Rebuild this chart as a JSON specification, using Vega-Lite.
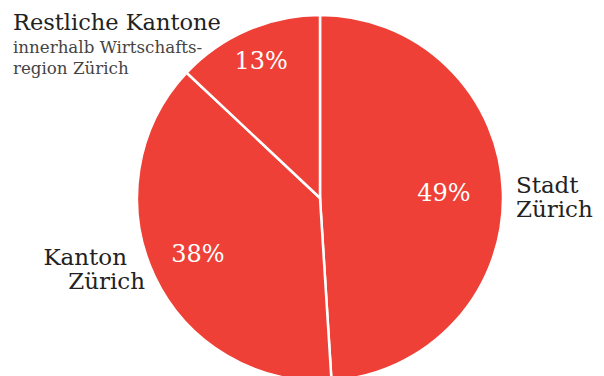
{
  "$schema": "https://vega.github.io/schema/vega-lite/v6.json",
  "width": 568,
  "height": 356,
  "padding": {"left": 36, "top": 20, "right": 0, "bottom": 0},
  "autosize": {"type": "none"},
  "background": "white",
  "config": {"view": {"stroke": null}, "font": "DejaVu Serif"},
  "data": {
    "values": [
      {"category": "Stadt Zürich", "value": 49, "ord": 1, "pct": "49%", "name": ["Stadt", "Zürich"], "name2": ""},
      {"category": "Kanton Zürich", "value": 38, "ord": 2, "pct": "38%", "name": "Kanton", "name2": "Zürich"},
      {"category": "Restliche Kantone", "value": 13, "ord": 3, "pct": "13%", "name": "Restliche Kantone", "name2": ["innerhalb Wirtschafts-", "region Zürich"]}
    ]
  },
  "encoding": {
    "theta": {"field": "value", "type": "quantitative", "stack": true},
    "order": {"field": "ord", "type": "quantitative"}
  },
  "layer": [
    {
      "mark": {"type": "arc", "outerRadius": 183, "fill": "#EE4036", "stroke": "white", "strokeWidth": 2.5}
    },
    {
      "mark": {"type": "text", "radius": 124, "fontSize": 24, "fill": "white", "align": "center", "baseline": "middle", "font": "DejaVu Serif"},
      "encoding": {"text": {"condition": {"test": "datum.ord === 1", "field": "pct"}, "value": ""}}
    },
    {
      "mark": {"type": "text", "radius": 135, "fontSize": 24, "fill": "white", "align": "center", "baseline": "middle", "font": "DejaVu Serif"},
      "encoding": {"text": {"condition": {"test": "datum.ord === 2", "field": "pct"}, "value": ""}}
    },
    {
      "mark": {"type": "text", "radius": 148, "fontSize": 24, "fill": "white", "align": "center", "baseline": "middle", "font": "DejaVu Serif"},
      "encoding": {"text": {"condition": {"test": "datum.ord === 3", "field": "pct"}, "value": ""}}
    },
    {
      "mark": {"type": "text", "radius": 196, "dy": 1, "fontSize": 23, "lineHeight": 24, "fill": "#222222", "align": "left", "baseline": "alphabetic", "font": "DejaVu Serif"},
      "encoding": {"text": {"condition": {"test": "datum.ord === 1", "field": "name"}, "value": ""}}
    },
    {
      "mark": {"type": "text", "radius": 200, "dx": -12, "dy": -18, "fontSize": 23, "fill": "#222222", "align": "right", "baseline": "alphabetic", "font": "DejaVu Serif"},
      "encoding": {"text": {"condition": {"test": "datum.ord === 2", "field": "name"}, "value": ""}}
    },
    {
      "mark": {"type": "text", "radius": 200, "dx": 6, "dy": 6, "fontSize": 23, "fill": "#222222", "align": "right", "baseline": "alphabetic", "font": "DejaVu Serif"},
      "encoding": {"text": {"condition": {"test": "datum.ord === 2", "field": "name2"}, "value": ""}}
    },
    {
      "mark": {"type": "text", "radius": 190, "dx": -231.6, "dy": 6.4, "fontSize": 22.5, "fill": "#222222", "align": "left", "baseline": "alphabetic", "font": "DejaVu Serif"},
      "encoding": {"text": {"condition": {"test": "datum.ord === 3", "field": "name"}, "value": ""}}
    },
    {
      "mark": {"type": "text", "radius": 190, "dx": -231.6, "dy": 29.4, "fontSize": 16.7, "lineHeight": 21, "fill": "#444444", "align": "left", "baseline": "alphabetic", "font": "DejaVu Serif"},
      "encoding": {"text": {"condition": {"test": "datum.ord === 3", "field": "name2"}, "value": ""}}
    }
  ]
}
